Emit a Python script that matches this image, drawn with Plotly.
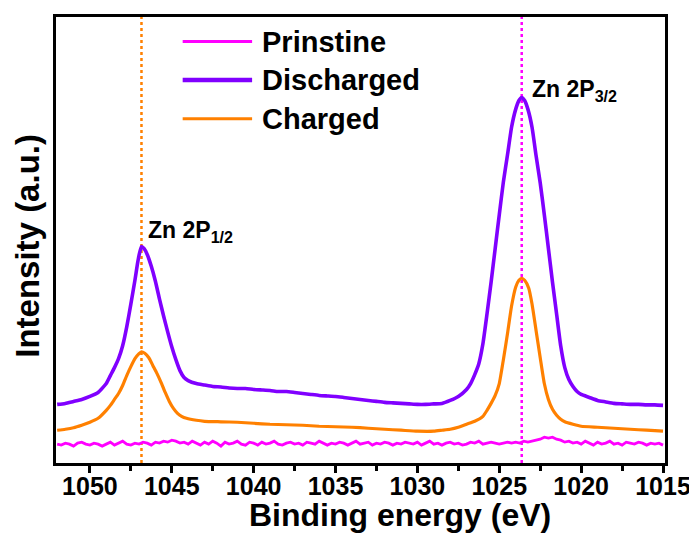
import plotly.graph_objects as go

# ---------------- data ----------------
discharged_energy = [1052.0, 1051.5, 1051.0, 1050.5, 1050.0, 1049.5, 1049.0, 1048.75, 1048.5, 1048.25,
                     1048.0, 1047.75, 1047.5, 1047.25, 1047.1, 1047.0, 1046.85, 1046.7, 1046.5, 1046.25,
                     1046.0, 1045.75, 1045.5, 1045.25, 1045.0, 1044.75, 1044.5, 1044.25, 1044.0, 1043.5,
                     1043.0, 1042.5, 1042.0, 1041.5, 1041.0, 1040.5, 1040.0, 1039.5, 1039.0, 1038.5,
                     1038.0, 1037.5, 1037.0, 1036.5, 1036.0, 1035.5, 1035.0, 1034.5, 1034.0, 1033.5,
                     1033.0, 1032.5, 1032.0, 1031.5, 1031.0, 1030.5, 1030.0, 1029.5, 1029.0, 1028.5,
                     1028.0, 1027.5, 1027.0, 1026.75, 1026.5, 1026.25, 1026.0, 1025.75, 1025.5, 1025.25,
                     1025.0, 1024.75, 1024.5, 1024.25, 1024.0, 1023.8, 1023.63, 1023.45, 1023.25, 1023.0,
                     1022.75, 1022.5, 1022.25, 1022.0, 1021.75, 1021.5, 1021.25, 1021.0, 1020.75, 1020.5,
                     1020.25, 1020.0, 1019.5, 1019.0, 1018.5, 1018.0, 1017.5, 1017.0, 1016.5, 1016.0,
                     1015.5, 1015.0]
discharged_intensity = [59, 60, 62, 64, 67, 71, 80, 88, 96, 105,
                        118, 137, 160, 184, 200, 209, 218, 216, 210, 198,
                        183, 165, 148, 132, 117, 104, 93, 86, 83, 80,
                        78.5, 77, 76.5, 75.5, 75, 75, 74, 73.5, 73, 72,
                        72, 71, 70, 69, 68, 67.5, 67, 66, 65, 64,
                        63, 62, 61, 60.5, 60, 59.5, 59, 59, 59.5, 60,
                        63, 67, 74, 80, 89, 100, 120, 150, 182, 216,
                        250, 283, 310, 338, 356, 365, 368, 365, 356, 338,
                        309, 282, 250, 216, 182, 150, 118, 96, 84, 77,
                        72, 69, 66, 63, 61.5, 60, 59.5, 59, 59, 58.5,
                        58.5, 58]

charged_energy = [1052.0, 1051.5, 1051.0, 1050.5, 1050.0, 1049.5, 1049.0, 1048.75, 1048.5, 1048.25,
                  1048.0, 1047.75, 1047.5, 1047.25, 1047.0, 1046.85, 1046.65, 1046.4, 1046.15, 1045.9,
                  1045.65, 1045.4, 1045.15, 1044.9, 1044.65, 1044.4, 1044.1, 1043.5, 1043.0, 1042.0,
                  1041.0, 1040.0, 1039.0, 1038.0, 1037.0, 1036.0, 1035.0, 1034.0, 1033.0, 1032.0,
                  1031.0, 1030.0, 1029.0, 1028.5, 1028.0, 1027.5, 1027.0, 1026.5, 1026.0, 1025.75,
                  1025.5, 1025.25, 1025.0, 1024.75, 1024.5, 1024.25, 1024.0, 1023.8, 1023.63, 1023.45,
                  1023.2, 1023.0, 1022.75, 1022.5, 1022.25, 1022.0, 1021.75, 1021.5, 1021.25, 1021.0,
                  1020.5, 1020.0, 1019.0, 1018.0, 1017.0, 1016.0, 1015.0]
charged_intensity = [33, 34, 35.5, 38, 41, 45, 53, 58, 64, 70,
                     78, 88, 97, 105, 110, 112, 110.5, 106, 98, 90,
                     81, 71, 62, 55, 50, 47, 45, 43, 42, 41.5,
                     41, 40, 39, 38.5, 38, 37, 36.5, 36, 35, 34,
                     33, 32, 32, 33, 34, 36, 39, 42, 47, 53,
                     60, 68, 80, 104, 130, 158, 177, 184, 186, 184,
                     176, 160, 133, 106, 80, 64, 54, 48, 44, 41.5,
                     39, 37, 36, 35, 34, 33, 32]

pristine_energy = [1052.0, 1051.75, 1051.5, 1051.25, 1051.0, 1050.75, 1050.5, 1050.25,
                   1050.0, 1049.75, 1049.5, 1049.25, 1049.0, 1048.75, 1048.5, 1048.25,
                   1048.0, 1047.75, 1047.5, 1047.25, 1047.0, 1046.75, 1046.5, 1046.25,
                   1046.0, 1045.75, 1045.5, 1045.25, 1045.0, 1044.75, 1044.5, 1044.25,
                   1044.0, 1043.75, 1043.5, 1043.25, 1043.0, 1042.75, 1042.5, 1042.25,
                   1042.0, 1041.75, 1041.5, 1041.25, 1041.0, 1040.75, 1040.5, 1040.25,
                   1040.0, 1039.75, 1039.5, 1039.25, 1039.0, 1038.75, 1038.5, 1038.25,
                   1038.0, 1037.75, 1037.5, 1037.25, 1037.0, 1036.75, 1036.5, 1036.25,
                   1036.0, 1035.75, 1035.5, 1035.25, 1035.0, 1034.75, 1034.5, 1034.25,
                   1034.0, 1033.75, 1033.5, 1033.25, 1033.0, 1032.75, 1032.5, 1032.25,
                   1032.0, 1031.75, 1031.5, 1031.25, 1031.0, 1030.75, 1030.5, 1030.25,
                   1030.0, 1029.75, 1029.5, 1029.25, 1029.0, 1028.75, 1028.5, 1028.25,
                   1028.0, 1027.75, 1027.5, 1027.25, 1027.0, 1026.75, 1026.5, 1026.25,
                   1026.0, 1025.75, 1025.5, 1025.25, 1025.0, 1024.75, 1024.5, 1024.25,
                   1024.0, 1023.75, 1023.5, 1023.25, 1023.0, 1022.75, 1022.5, 1022.25,
                   1022.0, 1021.75, 1021.5, 1021.25, 1021.0, 1020.75, 1020.5, 1020.25,
                   1020.0, 1019.75, 1019.5, 1019.25, 1019.0, 1018.75, 1018.5, 1018.25,
                   1018.0, 1017.75, 1017.5, 1017.25, 1017.0, 1016.75, 1016.5, 1016.25,
                   1016.0, 1015.75, 1015.5, 1015.25, 1015.0]
pristine_intensity = [19, 18, 20, 19, 17, 20, 21, 19,
                      18, 20, 19, 17, 19, 21, 18, 20,
                      22, 19, 18, 20, 19, 21, 20, 18,
                      21, 20, 22, 21, 23, 22, 20, 21,
                      19, 22, 20, 18, 21, 19, 22, 20,
                      17, 21, 19, 20, 22, 19, 18, 21,
                      20, 18, 21, 19, 20, 22, 19, 18,
                      20, 21, 19, 20, 18, 21, 20, 19,
                      22, 20, 18, 20, 19, 21, 20, 18,
                      20, 22, 19, 20, 21, 18, 20, 19,
                      21, 20, 18, 20, 19, 21, 20, 19,
                      21, 18, 20, 22, 19, 20, 18, 20,
                      21, 19, 20, 18, 19, 21, 20, 22,
                      19, 20, 21, 20, 19, 20, 21, 20,
                      21, 20, 22, 21, 22, 23, 24, 26,
                      25, 26, 24, 23, 21, 22, 20, 21,
                      19, 22, 20, 18, 21, 19, 20, 22,
                      19, 20, 18, 21, 20, 19, 21, 20,
                      18, 20, 19, 20, 18]

series_names = ["Prinstine", "Discharged", "Charged"]
series_colors = ["#FF00FF", "#8000FF", "#FF8000"]

peak_positions = [1046.85, 1023.63]
peak_labels = ["Zn 2P<sub>1/2</sub>", "Zn 2P<sub>3/2</sub>"]
peak_line_colors = ["#FF8000", "#FF00FF"]

x_tick_values = [1050, 1045, 1040, 1035, 1030, 1025, 1020, 1015]
x_tick_labels = ["1050", "1045", "1040", "1035", "1030", "1025", "1020", "1015"]

x_title = "Binding energy (eV)"
y_title = "Intensity (a.u.)"

# ---------------- figure ----------------
FONT = "Liberation Sans, Arial, sans-serif"
fig = go.Figure()

traces = [
    (pristine_energy, pristine_intensity, 2.8, "linear"),
    (discharged_energy, discharged_intensity, 3.6, "spline"),
    (charged_energy, charged_intensity, 3.2, "spline"),
]
for (xs, ys, w, shp), name, col in zip(traces, series_names, series_colors):
    fig.add_trace(go.Scatter(x=xs, y=ys, mode="lines", name=name,
                             line=dict(color=col, width=w, shape=shp, smoothing=0.5),
                             showlegend=False))

# vertical dotted reference lines at peak positions
for pos, col in zip(peak_positions, peak_line_colors):
    fig.add_shape(type="line", xref="x", yref="paper", x0=pos, x1=pos, y0=0, y1=1,
                  line=dict(color=col, width=2.5, dash="dot"), layer="below")

# peak labels
label_offsets = [(1046.6, 233), (1023.1, 375)]
for (lx, ly), txt in zip(label_offsets, peak_labels):
    fig.add_annotation(x=lx, y=ly, xref="x", yref="y", text=txt, showarrow=False,
                       xanchor="left", yanchor="middle",
                       font=dict(family=FONT, size=23, color="black", weight="bold"))

# manual legend (long line samples)
legend_rows_y = [0.945, 0.859, 0.772]
legend_widths = [3, 4.5, 3]
for name, col, ly, lw in zip(series_names, series_colors, legend_rows_y, legend_widths):
    fig.add_shape(type="line", xref="paper", yref="paper", x0=0.208, x1=0.322, y0=ly, y1=ly,
                  line=dict(color=col, width=lw))
    fig.add_annotation(x=0.335, y=ly, xref="paper", yref="paper", text=name, showarrow=False,
                       xanchor="left", yanchor="middle",
                       font=dict(family=FONT, size=29, color="black", weight="bold"))

# axis titles
fig.add_annotation(x=0.5646, y=-0.117, xref="paper", yref="paper", text=x_title,
                   showarrow=False, xanchor="center", yanchor="middle",
                   font=dict(family=FONT, size=32, color="black", weight="bold"))
fig.add_annotation(x=-0.047, y=0.488, xref="paper", yref="paper", text=y_title,
                   showarrow=False, xanchor="center", yanchor="middle", textangle=-90,
                   font=dict(family=FONT, size=33, color="black", weight="bold"))

fig.update_xaxes(range=[1052.07, 1014.88], tickvals=x_tick_values, ticktext=x_tick_labels,
                 ticks="outside", ticklen=7, tickwidth=2.5, tickcolor="black",
                 ticklabelstandoff=-8,
                 minor=dict(dtick=2.5, tick0=1015, ticks="outside", ticklen=5, tickwidth=2.5,
                            tickcolor="black", showgrid=False),
                 showline=True, linewidth=3, linecolor="black", mirror=True,
                 showgrid=False, zeroline=False,
                 tickfont=dict(family=FONT, size=25, color="black", weight="bold"))
fig.update_yaxes(range=[0, 449], showticklabels=False, ticks="",
                 showline=True, linewidth=3, linecolor="black", mirror=True,
                 showgrid=False, zeroline=False)

# page body has an 8px margin: figure is 8px smaller so it fills the 697x535 window
fig.update_layout(width=689, height=527,
                  margin=dict(l=48, r=30, t=6, b=72),
                  paper_bgcolor="white", plot_bgcolor="white",
                  showlegend=False)

fig.write_html("out.html")
